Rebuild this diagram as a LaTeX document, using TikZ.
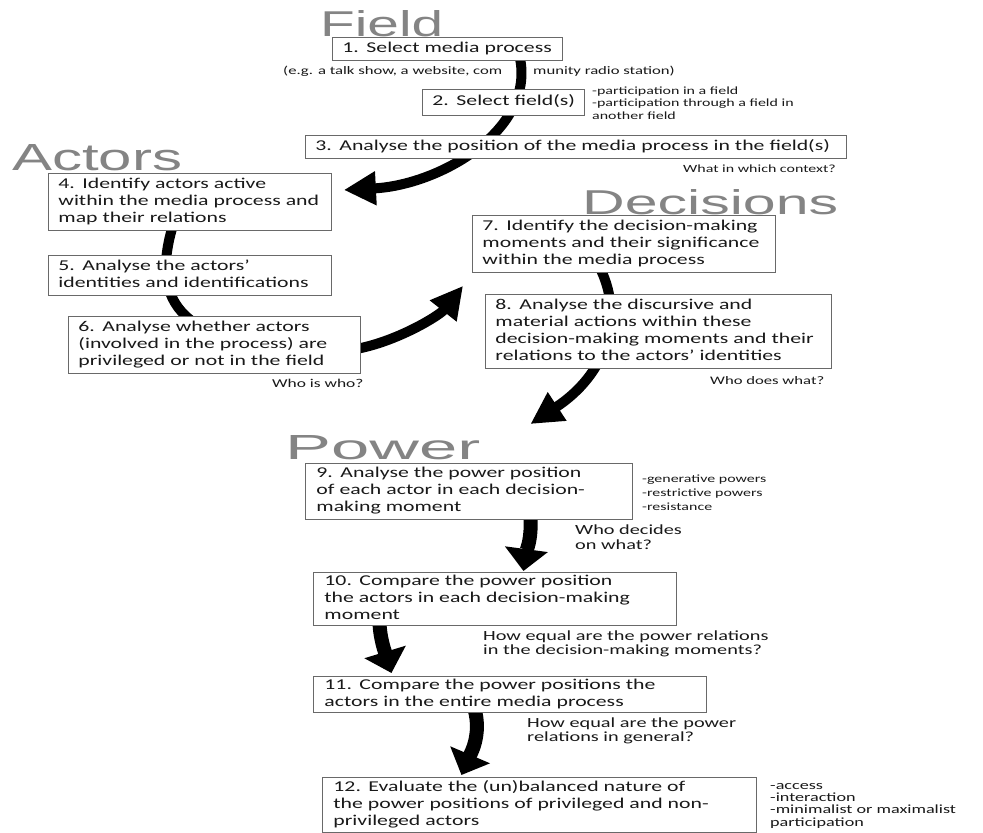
\documentclass[tikz,border=0pt]{standalone}
\usepackage{fontspec}
\setmainfont{Carlito}[FakeStretch=1.45]
\newfontfamily\titlefont{Liberation Sans}
\usetikzlibrary{arrows.meta}
\pgfdeclarelayer{bg}
\pgfsetlayers{bg,main}
\definecolor{titlegray}{RGB}{132,132,132}
\definecolor{boxline}{RGB}{105,105,105}
\definecolor{txt}{RGB}{25,25,25}
\newcommand\lns[1]{\begin{tabular}{@{}l@{}}#1\end{tabular}}
\newcommand\ann[1]{\begin{tabular}[t]{@{}l@{}}#1\end{tabular}}
\begin{document}
\begin{tikzpicture}[x=1pt,y=-1pt,
  stepbox/.style={draw=boxline, line width=0.9pt, fill=white, anchor=north west,
    inner xsep=10pt, inner ysep=0pt, align=left, text=txt,
    font=\fontsize{15}{17}\selectfont},
  title/.style={anchor=base west, inner sep=0pt, text=titlegray},
  note/.style={anchor=base west, inner sep=0pt, text=txt},
  curvearrow/.style={line width=10pt, draw=black, -{Triangle[length=32pt,width=32pt]}},
  band/.style={line width=10pt, draw=black},
  stubarrow/.style={line width=14pt, draw=black, -{Triangle[length=22pt,width=42pt]}}
]
\useasboundingbox (0,0) rectangle (983,833);

% boxes
\node[stepbox, text width=210pt, minimum height=23pt] (b1) at (332,37) {\lns{1. Select media process}};
\node[stepbox, text width=142pt, minimum height=26pt] (b2) at (422,89) {\lns{2. Select field(s)}};
\node[stepbox, text width=521pt, minimum height=23pt] (b3) at (305,135) {\lns{3. Analyse the position of the media process in the field(s)}};
\node[stepbox, text width=263pt, minimum height=57pt] (b4) at (48,173) {\lns{4. Identify actors active\\within the media process and\\map their relations}};
\node[stepbox, text width=263pt, minimum height=40pt] (b5) at (48,255) {\lns{5. Analyse the actors’\\identities and identifications}};
\node[stepbox, text width=272pt, minimum height=57pt] (b6) at (68,316) {\lns{6. Analyse whether actors\\(involved in the process) are\\privileged or not in the field}};
\node[stepbox, text width=283pt, minimum height=57pt] (b7) at (472,215) {\lns{7. Identify the decision-making\\moments and their significance\\within the media process}};
\node[stepbox, text width=326pt, minimum height=74pt] (b8) at (485,294) {\lns{8. Analyse the discursive and\\material actions within these\\decision-making moments and their\\relations to the actors’ identities}};
\node[stepbox, text width=305pt, minimum height=56pt, inner xsep=11pt] (b9) at (305,463) {\lns{9. Analyse the power position\\of each actor in each decision-\\making moment}};
\node[stepbox, text width=341pt, minimum height=53pt, inner xsep=11pt] (b10) at (313,572) {\lns{10. Compare the power position\\the actors in each decision-making\\moment}};
\node[stepbox, text width=371pt, minimum height=36pt, inner xsep=11pt] (b11) at (313,676) {\lns{11. Compare the power positions the\\actors in the entire media process}};
\node[stepbox, text width=412pt, minimum height=55pt, inner xsep=11pt] (b12) at (322,777) {\lns{12. Evaluate the (un)balanced nature of\\the power positions of privileged and non-\\privileged actors}};

% annotations
\node[note, font=\fontsize{11.5}{13}\selectfont] (eg1) at (283,74) {(e.g. a talk show, a website, com};
\node[note, font=\fontsize{11.5}{13}\selectfont] (eg2) at (533,74) {munity radio station)};
\node[note, font=\fontsize{11}{12.5}\selectfont] (n2) at (592,94) {\ann{-participation in a field\\-participation through a field in\\another field}};
\node[note, font=\fontsize{11}{12.5}\selectfont] (n3) at (683,172) {What in which context?};
\node[note, font=\fontsize{12}{14}\selectfont] (n6) at (272,387) {Who is who?};
\node[note, font=\fontsize{11.5}{14}\selectfont] (n8) at (710,384) {Who does what?};
\node[note, font=\fontsize{11}{14}\selectfont] (n9) at (642,482) {\ann{-generative powers\\-restrictive powers\\-resistance}};
\node[note, font=\fontsize{14}{15}\selectfont] (n9b) at (575,534) {\ann{Who decides\\on what?}};
\node[note, font=\fontsize{14}{14}\selectfont] (n10) at (483,640) {\ann{How equal are the power relations\\in the decision-making moments?}};
\node[note, font=\fontsize{14}{14}\selectfont] (n11) at (527,727) {\ann{How equal are the power\\relations in general?}};
\node[note, font=\fontsize{12.5}{12.3}\selectfont] (n12) at (770,789) {\ann{-access\\-interaction\\-minimalist or maximalist\\participation}};

\begin{pgfonlayer}{bg}
\fill[white] (0,0) rectangle (983,833);
% titles
\node[title] (tf) at (320,36) {\resizebox{123pt}{26pt}{\titlefont Field}};
\node[title] (ta) at (12,170) {\resizebox{170pt}{26pt}{\titlefont Actors}};
\node[title] (td) at (582,214) {\resizebox{256pt}{25pt}{\titlefont Decisions}};
\node[title] (tp) at (285,459) {\resizebox{195pt}{24pt}{\titlefont Power}};
% connectors
\draw[curvearrow] ([shift={(-43,-3)}]b1.south east) .. controls (535,130) and (440,185) .. ([shift={(12,-12)}]b4.east);
\draw[band] ([shift={(-17.5,-4)}]b4.south) .. controls (160,270) and (165,300) .. ([shift={(-24,4)}]b6.north);
\draw[curvearrow] ([shift={(-2,3.5)}]b6.east) .. controls (400,340) and (440,315) .. ([shift={(-9,13)}]b7.south west);
\draw[curvearrow] ([shift={(-23.5,-4)}]b7.south) .. controls (625,320) and (605,375) .. ([shift={(61.5,-39)}]b9.north);
\draw[stubarrow] ([shift={(61.5,-4)}]b9.south) .. controls (532,540) and (526,552) .. ([shift={(28.5,-1)}]b10.north);
\draw[stubarrow] ([shift={(-115.5,-4)}]b10.south) .. controls (380,640) and (386,655) .. ([shift={(-118.5,-3)}]b11.north);
\draw[stubarrow] ([shift={(-35.5,-4)}]b11.south) .. controls (482,735) and (470,755) .. ([shift={(-78,-2)}]b12.north);
\end{pgfonlayer}
\end{tikzpicture}
\end{document}
